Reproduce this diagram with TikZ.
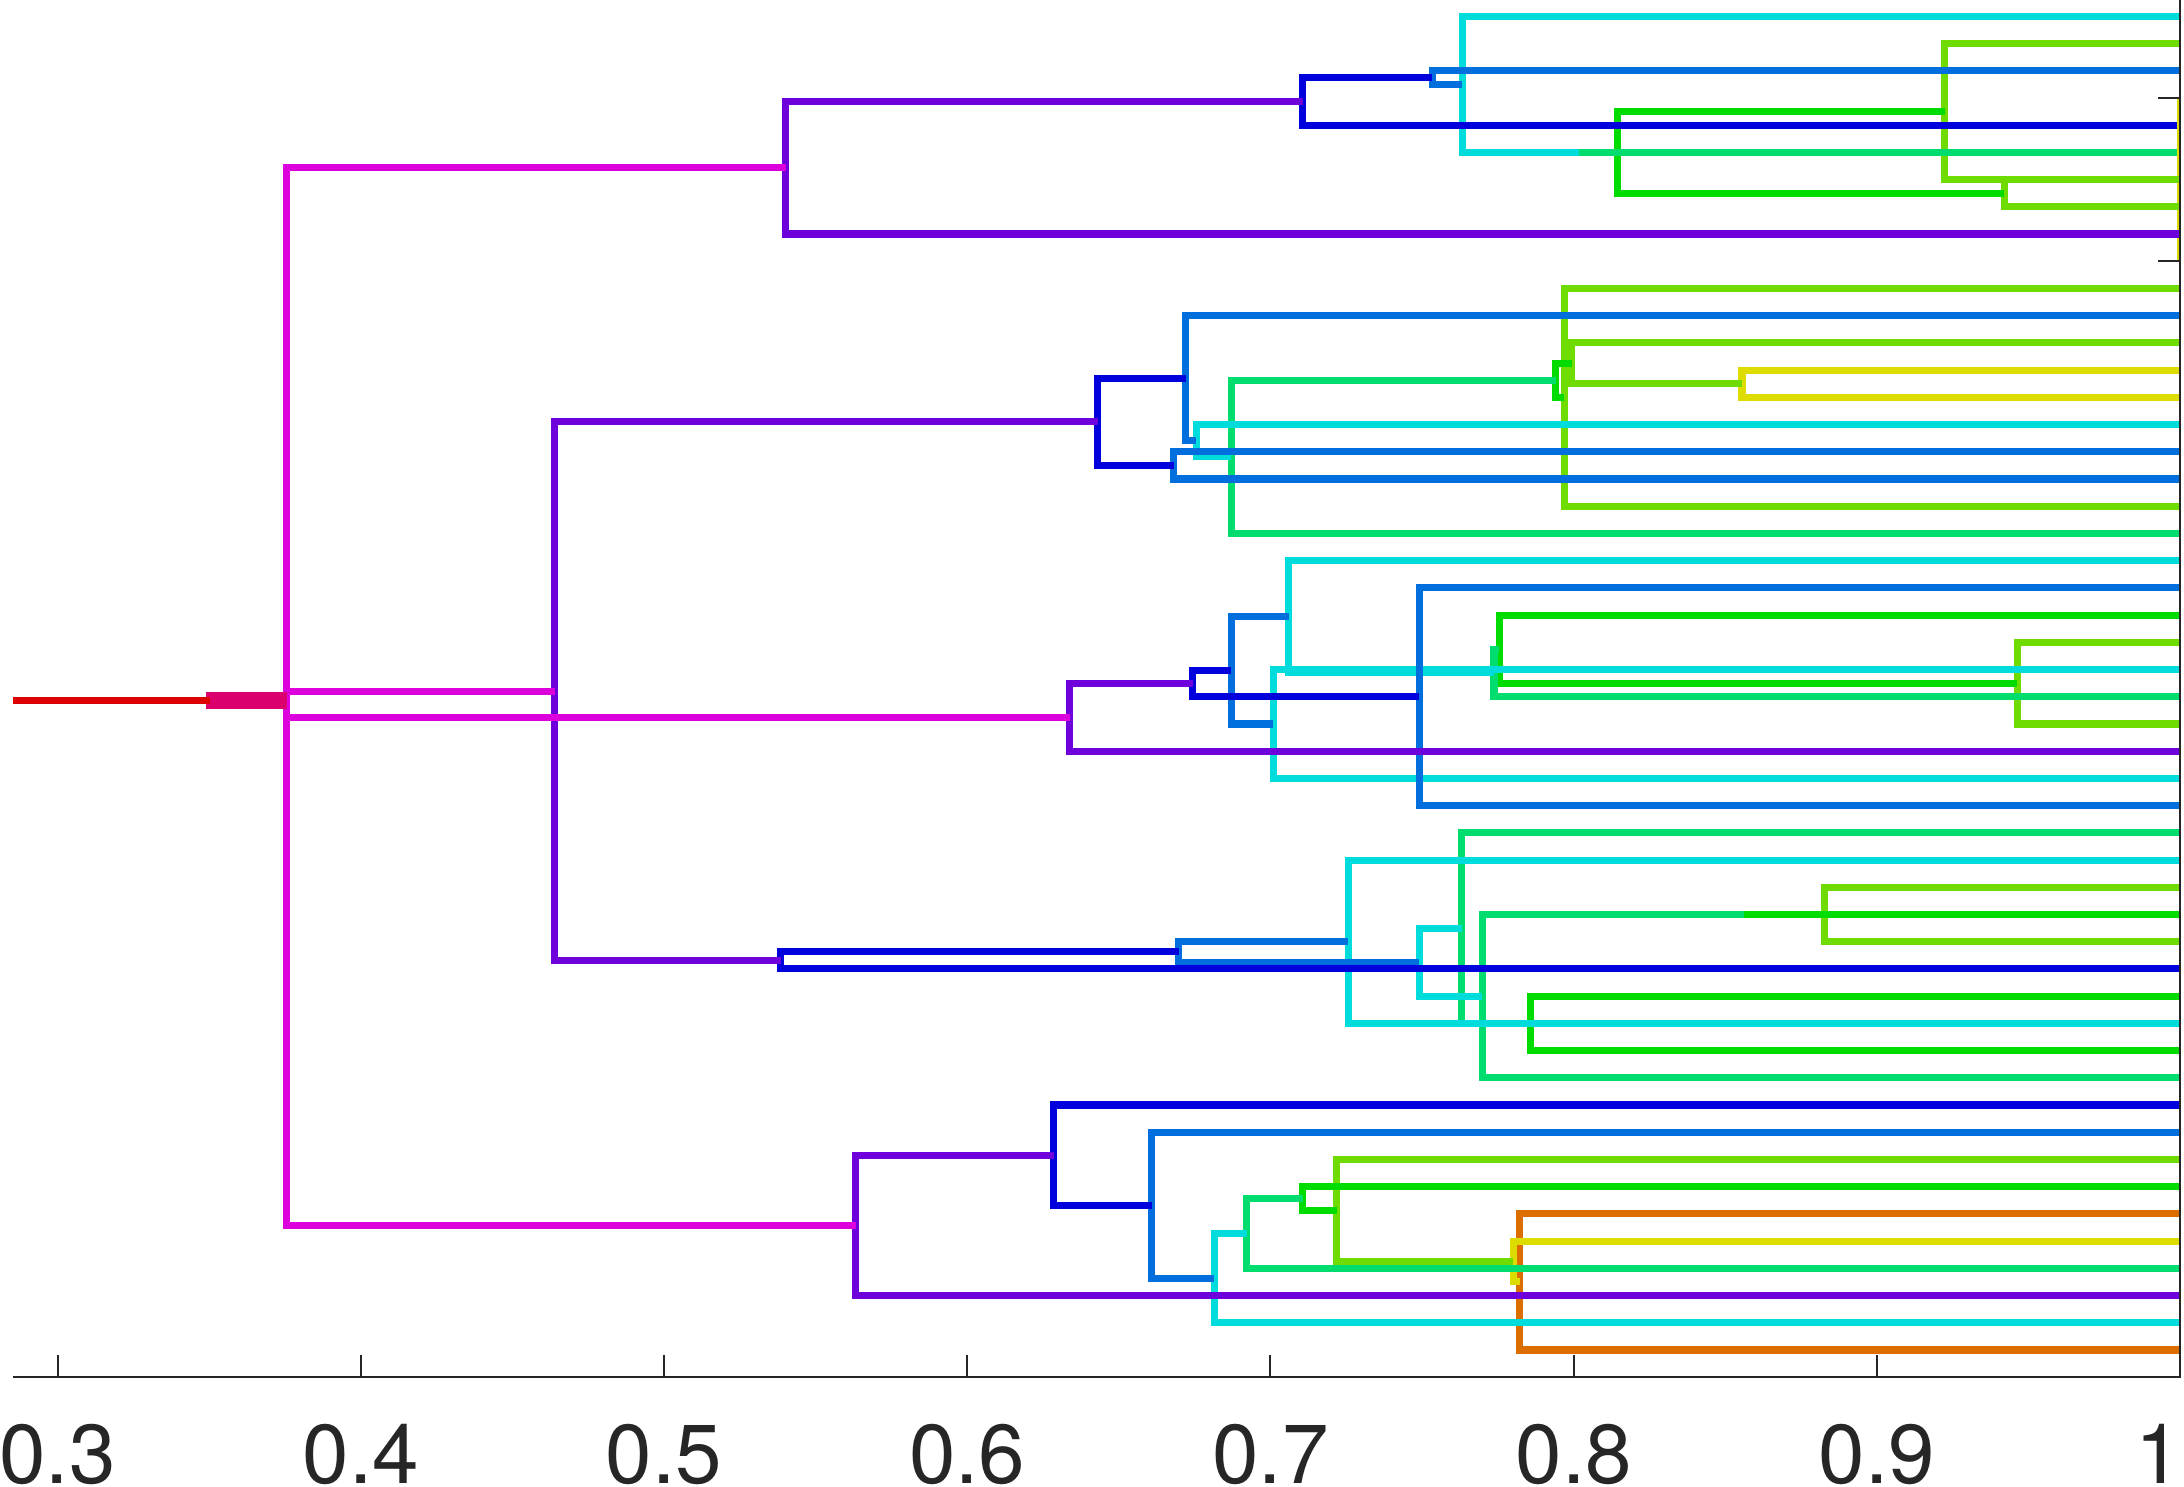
\documentclass[tikz,border=0pt]{standalone}
\usepackage{fontspec}
\setmainfont{TeX Gyre Heros}
\definecolor{cR}{RGB}{220,0,0}
\definecolor{cRo}{RGB}{220,0,110}
\definecolor{cM}{RGB}{220,0,220}
\definecolor{cV}{RGB}{110,0,220}
\definecolor{cB}{RGB}{0,0,220}
\definecolor{cA}{RGB}{0,110,220}
\definecolor{cC}{RGB}{0,220,220}
\definecolor{cS}{RGB}{0,220,110}
\definecolor{cG}{RGB}{0,220,0}
\definecolor{cL}{RGB}{110,220,0}
\definecolor{cY}{RGB}{220,220,0}
\definecolor{cO}{RGB}{220,110,0}
\definecolor{axc}{RGB}{38,38,38}
% clade: colour, x, y-low, y-high, list of child y/x-end
\newcommand\clade[5]{%
  \draw[#1,line cap=rect] (#2,#3) -- (#2,#4);
  \foreach \cy/\cx in {#5} {\draw[#1] (#2,\cy) -- (\cx,\cy);}%
}
\tikzset{
  axis line/.style={axc, line width=2pt},
  ticklabel/.style={text=axc, inner sep=0pt, text depth=0pt, font=\fontsize{83.6}{90}\selectfont}
}
\begin{document}
\begin{tikzpicture}[x=1pt,y=1pt]
\useasboundingbox (0,0) rectangle (2184,-1487);
\begin{scope}[shift={(-852.2pt,-16.3pt)}, x=3032.4pt, y=-27.218pt, line width=7.1pt]
% depth 11 orange
\clade{cO}{0.7822}{44}{49}{44/1, 49/1}
% depth 10 yellow
\clade{cY}{0.7800}{45}{46.5}{45/1, 46.5/0.7822}
\clade{cY}{0.8555}{13}{14}{13/1, 14/1}
\draw[cY, line width=3.4pt] (0.99945,3) -- (0.99945,9);
% depth 9 lime
\clade{cL}{0.9223}{1}{6}{1/1, 6/1}
\clade{cL}{0.9420}{6}{7}{6/1, 7/1}
\clade{cL}{0.7969}{10}{18}{10/1, 18/1}
\clade{cL}{0.7993}{12}{13.5}{12/1, 13.5/0.8555}
\clade{cL}{0.8826}{32}{34}{32/1, 34/1}
\clade{cL}{0.9462}{23}{26}{23/1, 26/1}
\clade{cL}{0.7218}{42}{45.75}{42/1, 45.75/0.7800}
% depth 8 green
\clade{cG}{0.8143}{3.5}{6.5}{3.5/0.9223, 6.5/0.9420}
\clade{cG}{0.7941}{12.75}{14}{12.75/0.7993, 14/0.7969}
\clade{cG}{0.7857}{36}{38}{36/1, 38/1}
\draw[cG] (0.8560,33) -- (1,33);
\clade{cG}{0.7754}{22}{24.5}{22/1, 24.5/0.9462}
\clade{cG}{0.7107}{43}{43.875}{43/1, 43.875/0.7218}
% depth 7 spring
\draw[cS] (0.8016,5) -- (0.9989,5);
\clade{cS}{0.6871}{13.375}{19}{13.375/0.7941, 19/1}
\clade{cS}{0.7630}{30}{37}{30/1, 37/0.7857}
\clade{cS}{0.7699}{33}{39}{33/0.8560, 39/1}
\clade{cS}{0.7737}{23.25}{25}{23.25/0.7754, 25/1}
\clade{cS}{0.6922}{43.4375}{46}{43.4375/0.7107, 46/1}
% depth 6 cyan
\clade{cC}{0.7632}{0}{5}{0/1, 5/0.8016}
\clade{cC}{0.6755}{15}{16.1875}{15/1, 16.1875/0.6871}
\clade{cC}{0.7257}{31}{37}{31/1, 37/1}
\clade{cC}{0.7491}{33.5}{36}{33.5/0.7630, 36/0.7699}
\clade{cC}{0.7060}{20}{24.125}{20/1, 24.125/0.7737}
\clade{cC}{0.7009}{24}{28}{24/1, 28/1}
\clade{cC}{0.6815}{44.719}{48}{44.719/0.6922, 48/1}
% depth 5 azure
\clade{cA}{0.7534}{2}{2.5}{2/1, 2.5/0.7632}
\clade{cA}{0.6720}{11}{15.594}{11/1, 15.594/0.6755}
\clade{cA}{0.6681}{16}{17}{16/1, 17/1}
\clade{cA}{0.6697}{34}{34.75}{34/0.7257, 34.75/0.7491}
\clade{cA}{0.6871}{22.0625}{26}{22.0625/0.7060, 26/0.7009}
\clade{cA}{0.7491}{21}{29}{21/1, 29/1}
\clade{cA}{0.6609}{41}{46.359}{41/1, 46.359/0.6815}
% depth 4 blue
\clade{cB}{0.7107}{2.25}{4}{2.25/0.7534, 4/0.9989}
\clade{cB}{0.6431}{13.297}{16.5}{13.297/0.6720, 16.5/0.6681}
\clade{cB}{0.5385}{34.375}{35}{34.375/0.6697, 35/1}
\clade{cB}{0.6744}{24.03}{25}{24.03/0.6871, 25/0.7491}
\clade{cB}{0.6285}{40}{43.68}{40/1, 43.68/0.6609}
% depth 3 violet
\clade{cV}{0.5401}{3.125}{8}{3.125/0.7107, 8/1}
\clade{cV}{0.4640}{14.898}{34.6875}{14.898/0.6431, 34.6875/0.5385}
\clade{cV}{0.6338}{24.516}{27}{24.516/0.6744, 27/1}
\clade{cV}{0.5633}{41.84}{47}{41.84/0.6285, 47/1}
% depth 2 magenta
\clade{cM}{0.3756}{5.5625}{44.42}{5.5625/0.5401, 44.42/0.5633}
\clade{cM}{0.3756}{24.793}{25.758}{24.793/0.4640, 25.758/0.6338}
% depth 1 rose
\begin{scope}[line width=8.6pt]
\clade{cRo}{0.3503}{24.99}{25.275}{24.99/0.3756, 25.275/0.3756}
\end{scope}
% root
\draw[cR] (0.2852,25.13) -- (0.3503,25.13);
\end{scope}
% axes
\draw[axis line, line join=miter] (12.6,-1377) -- (2180.2,-1377) -- (2180.2,0);
\foreach \tx in {57.52,360.76,664.0,967.24,1270.48,1573.72,1876.96}
  \draw[axis line] (\tx,-1377) -- (\tx,-1355);
\draw[axis line] (2158,-97.95) -- (2180.2,-97.95);
\draw[axis line] (2158,-261.26) -- (2180.2,-261.26);
\node[ticklabel, anchor=base] (t3) at (57.52,-1483.3) {0.3};
\node[ticklabel, anchor=base] (t4) at (360.76,-1483.3) {0.4};
\node[ticklabel, anchor=base] (t5) at (664.0,-1483.3) {0.5};
\node[ticklabel, anchor=base] (t6) at (967.24,-1483.3) {0.6};
\node[ticklabel, anchor=base] (t7) at (1270.48,-1483.3) {0.7};
\node[ticklabel, anchor=base] (t8) at (1573.72,-1483.3) {0.8};
\node[ticklabel, anchor=base] (t9) at (1876.96,-1483.3) {0.9};
\node[ticklabel, anchor=base east] (t10) at (2182,-1483.3) {1};
\end{tikzpicture}
\end{document}
